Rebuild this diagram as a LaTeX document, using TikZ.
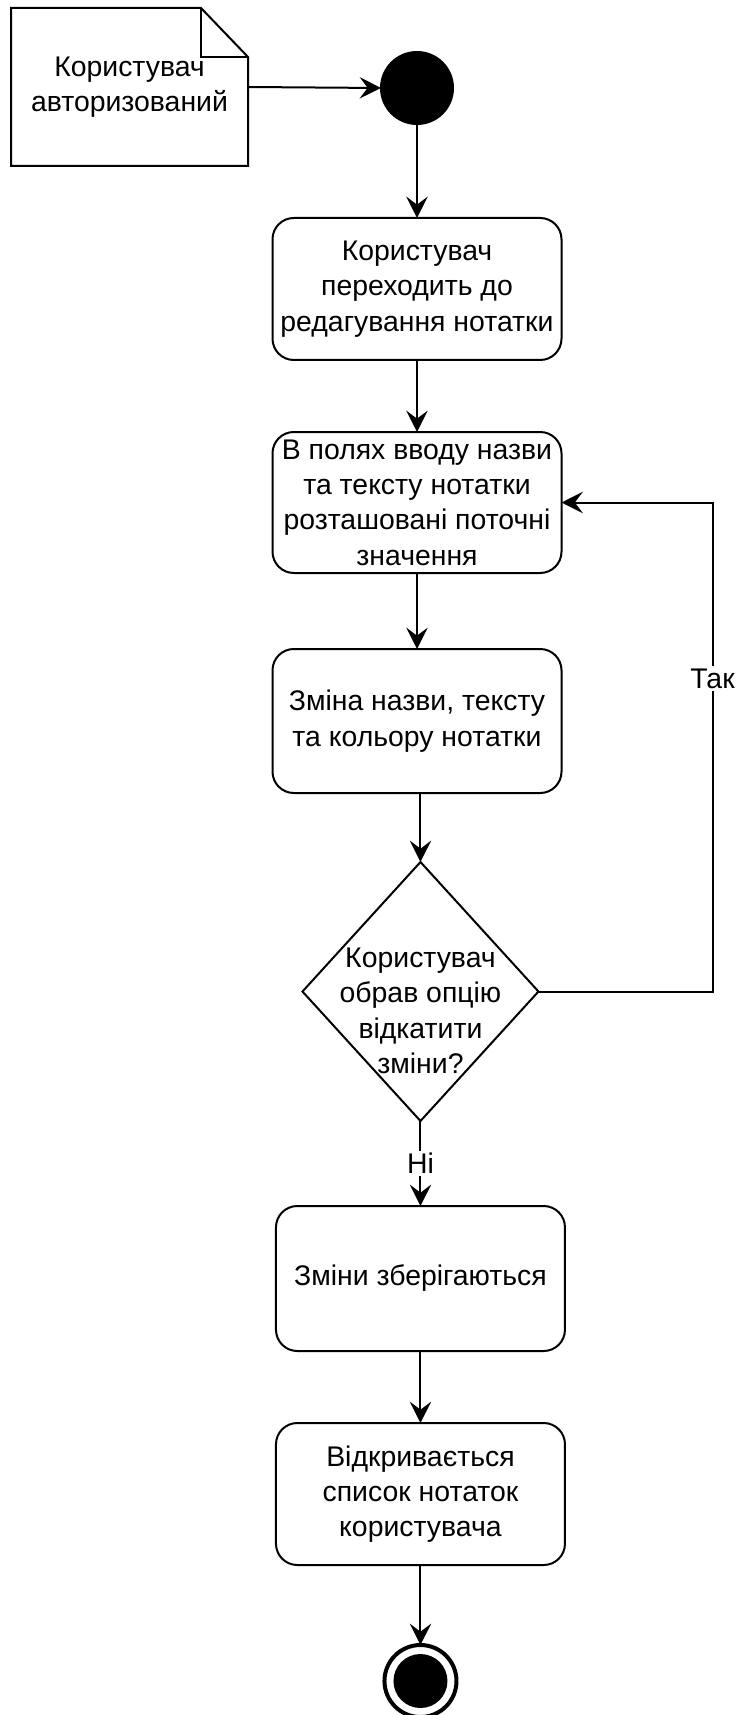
\documentclass[tikz,border=0pt]{standalone}
\usepackage{fontspec}
\setmainfont{Liberation Sans}
\usetikzlibrary{shapes.geometric, arrows.meta, positioning}

\begin{document}
\begin{tikzpicture}[x=0.75pt, y=-0.75pt,
        every node/.style={font=\fontsize{21.3pt}{26.5pt}\selectfont},
        action/.style={draw, line width=1.5pt, rounded corners=16pt, minimum width=216.75pt, align=center, inner sep=0pt, outer sep=0pt},
        decision/.style={diamond, draw, line width=1.5pt, minimum width=177pt, minimum height=194.25pt, inner sep=0pt, outer sep=0pt},
        notebox/.style={minimum width=177.75pt, minimum height=118.5pt, align=center, inner sep=0pt, outer sep=0pt},
        outline/.style={line width=1.5pt, line join=miter},
        startdot/.style={circle, draw, fill=black, line width=1.5pt, minimum size=54pt, inner sep=0pt, outer sep=0pt},
        finalring/.style={circle, draw, line width=3pt, minimum size=54pt, inner sep=0pt, outer sep=0pt},
        finaldot/.style={circle, fill=black, minimum size=40.5pt, inner sep=0pt},
        flow/.style={-{Stealth[length=16pt, width=16pt, inset=6pt]}, line width=1.5pt},
        lbl/.style={fill=white, inner sep=2pt}
    ]
        \useasboundingbox (0,0) rectangle (740,1715);

        % Note and start
        \node[notebox] (note) at (129.5,87) {Користувач\\авторизований};
        \draw[outline] (note.north west) -- ([xshift=-35.25pt]note.north east) -- ([yshift=-36.75pt]note.north east) -- (note.south east) -- (note.south west) -- cycle;
        \draw[outline] ([xshift=-35.25pt]note.north east) |- ([yshift=-36.75pt]note.north east);
        \node[startdot] (start) at (417,88) {};

        % Main flow
        \node[action, minimum height=106.5pt, below=70.5pt of start] (act1) {Користувач\\переходить до\\редагування нотатки};
        \node[action, minimum height=105.75pt, below=54pt of act1] (act2) {В полях вводу назви\\та тексту нотатки\\розташовані поточні\\значення};
        \node[action, minimum height=108pt, below=57pt of act2] (act3) {Зміна назви, тексту\\та кольору нотатки};
        \node[decision, below=51.75pt of act3, xshift=2.6pt] (dec) {};
        \node[align=center, inner sep=0pt] (dectxt) at ([yshift=-14.6pt]dec.center) {Користувач\\обрав опцію\\відкатити\\зміни?};
        \node[action, minimum height=108.75pt, below=63.75pt of dec] (act4) {Зміни зберігаються};
        \node[action, minimum height=106.5pt, below=54pt of act4] (act5) {Відкривається\\список нотаток\\користувача};
        \node[finalring, below=60pt of act5] (end) {};
        \node[finaldot] (endcore) at (end) {};
        \coordinate (turn) at ([xshift=113.25pt]act2.east);

        \draw[flow] (note.east) -- (start.west);
        \draw[flow] (start) -- (act1);
        \draw[flow] (act1) -- (act2);
        \draw[flow] (act2) -- (act3);
        \draw[flow] (act3.south -| dec.north) -- (dec.north);
        \draw[flow] (dec.south) -- node[lbl] (no) {Ні} (act4.north);
        \draw[flow] (act4) -- (act5);
        \draw[flow] (act5) -- (end);

        % Loop back
        \draw[flow] (dec.east) -| node[lbl, pos=0.82] (yes) {Так} (turn) -- (act2.east);
    \end{tikzpicture}
\end{document}
